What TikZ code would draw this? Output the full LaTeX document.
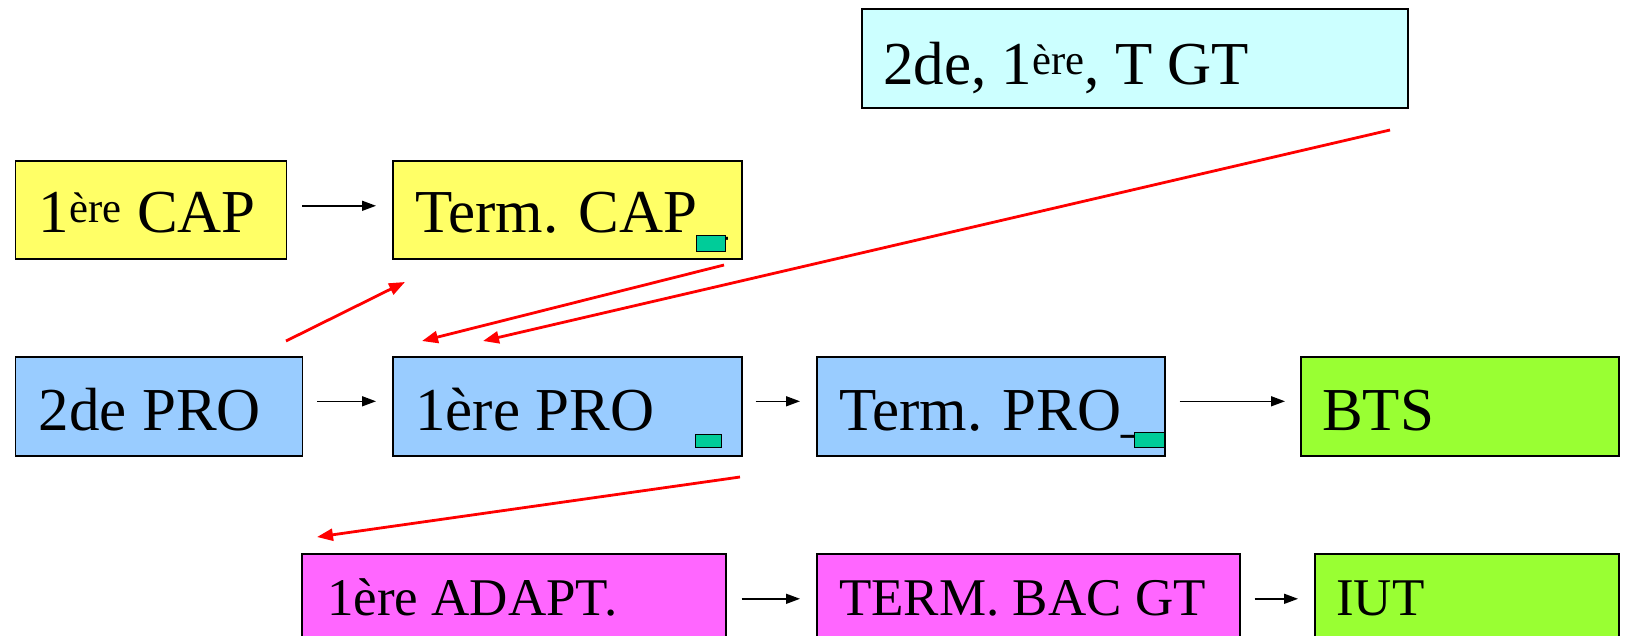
\documentclass[tikz,border=0pt]{standalone}
\usepackage{fontspec}
\setmainfont{Liberation Serif}
\usetikzlibrary{arrows.meta}
\definecolor{cyel}{HTML}{FFFF66}
\definecolor{ccyan}{HTML}{CCFFFF}
\definecolor{cblue}{HTML}{99CCFF}
\definecolor{cgreen}{HTML}{99FF33}
\definecolor{cmag}{HTML}{FF66FF}
\definecolor{cmark}{HTML}{00CC99}
\definecolor{cred}{HTML}{FF0000}
\tikzset{
  box/.style={draw=black, line width=1.6pt, inner sep=0pt, anchor=north west},
  lbl/.style={inner sep=0pt, anchor=base west, font=\fontsize{61}{70}\selectfont},
  smalllbl/.style={lbl, font=\fontsize{53}{60}\selectfont},
  greenmark/.style={draw=black, line width=1pt, fill=cmark, inner sep=0pt, anchor=north west},
  blk/.style={draw=black, line width=1.5pt, -{Triangle[length=14pt,width=10pt]}},
  redarr/.style={draw=cred, line width=2.8pt, -{Triangle[length=16pt,width=12pt]}},
}
\begin{document}
\begin{tikzpicture}[x=1pt,y=-1pt]
\useasboundingbox[fill=white] (0,0) rectangle (1637,635);
% row 1
\node[box, fill=cyel, minimum width=271pt, minimum height=98pt] (cap1) at (14.6,160) {};
\node[lbl] (cap1t) at ([xshift=24pt,yshift=-72pt]cap1.north west) {1\textsuperscript{ère} CAP};
\node[box, fill=cyel, minimum width=349pt, minimum height=98pt] (capT) at (392,160) {};
\node[lbl] (capTt) at ([xshift=23pt,yshift=-72pt]capT.north west) {Term. CAP\_};
\node[greenmark, minimum width=29pt, minimum height=16pt] (m1) at (696,235) {};
% top box
\node[box, fill=ccyan, minimum width=546pt, minimum height=99pt] (gt) at (861,8) {};
\node[lbl] (gtt) at ([xshift=22pt,yshift=-76pt]gt.north west) {2de, 1\textsuperscript{ère}, T GT};
% row 2
\node[box, fill=cblue, minimum width=287pt, minimum height=99pt] (pro2) at (14.6,356) {};
\node[lbl] (pro2t) at ([xshift=24pt,yshift=-74pt]pro2.north west) {2de PRO};
\node[box, fill=cblue, minimum width=349pt, minimum height=99pt] (pro1) at (392,356) {};
\node[lbl] (pro1t) at ([xshift=23pt,yshift=-74pt]pro1.north west) {1ère PRO};
\node[greenmark, minimum width=26pt, minimum height=13pt] (m2) at (695,434) {};
\node[box, fill=cblue, minimum width=348pt, minimum height=99pt] (proT) at (816,356) {};
\node[lbl] (proTt) at ([xshift=23pt,yshift=-74pt]proT.north west) {Term. PRO\_};
\node[greenmark, minimum width=30pt, minimum height=15pt] (m3) at (1134,432) {};
\node[box, fill=cgreen, minimum width=318pt, minimum height=99pt] (bts) at (1300,356) {};
\node[lbl] (btst) at ([xshift=22pt,yshift=-74pt]bts.north west) {BTS};
% row 3
\node[box, fill=cmag, minimum width=424pt, minimum height=90pt] (adapt) at (301,553) {};
\node[smalllbl] (adaptt) at ([xshift=26pt,yshift=-62pt]adapt.north west) {1ère ADAPT.};
\node[box, fill=cmag, minimum width=423pt, minimum height=90pt] (bacgt) at (816,553) {};
\node[smalllbl] (bacgtt) at ([xshift=23pt,yshift=-62pt]bacgt.north west) {TERM. BAC GT};
\node[box, fill=cgreen, minimum width=304pt, minimum height=90pt] (iut) at (1314,553) {};
\node[smalllbl] (iutt) at ([xshift=22pt,yshift=-62pt]iut.north west) {IUT};
% black arrows
\draw[blk, shorten <=15pt, shorten >=16pt] ([yshift=4pt]cap1.east) -- ([yshift=4pt]capT.west);
\draw[blk, shorten <=14pt, shorten >=16pt] ([yshift=5pt]pro2.east) -- ([yshift=5pt]pro1.west);
\draw[blk, shorten <=13pt, shorten >=16pt] ([yshift=5pt]pro1.east) -- ([yshift=5pt]proT.west);
\draw[blk, shorten <=14pt, shorten >=15pt] ([yshift=5pt]proT.east) -- ([yshift=5pt]bts.west);
\draw[blk, shorten <=15pt, shorten >=16pt] (adapt.east) -- (bacgt.west);
\draw[blk, shorten <=14pt, shorten >=16pt] (bacgt.east) -- (iut.west);
% red arrows
\coordinate (r1a) at (286,341); \coordinate (r1b) at (405,282);
\coordinate (r2a) at (724,265); \coordinate (r2b) at (422,341);
\coordinate (r3a) at (1390,130); \coordinate (r3b) at (483,341);
\coordinate (r4a) at (740,477); \coordinate (r4b) at (317,537);
\draw[redarr] (r1a) -- (r1b);
\draw[redarr] (r2a) -- (r2b);
\draw[redarr] (r3a) -- (r3b);
\draw[redarr] (r4a) -- (r4b);
\end{tikzpicture}
\end{document}
